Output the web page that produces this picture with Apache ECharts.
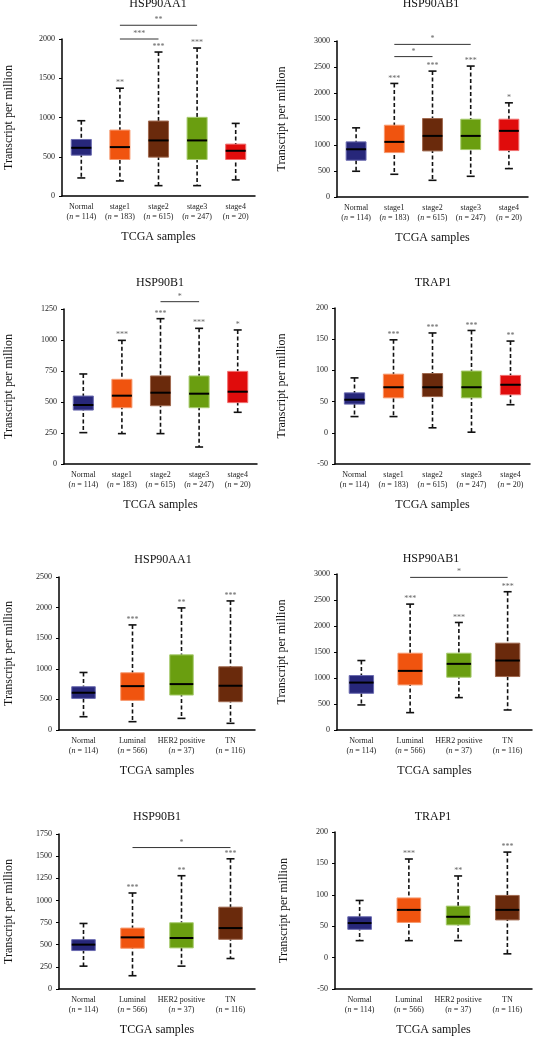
<!DOCTYPE html>
<html><head><meta charset="utf-8">
<script src="https://cdn.jsdelivr.net/npm/echarts@6/dist/echarts.min.js"></script>
<style>html,body{margin:0;padding:0;background:#fff}#c{width:533px;height:1037px}</style>
</head><body><div id="c"></div>
<script>
// ---------- DATA ----------
const stageCats = ['Normal', 'stage1', 'stage2', 'stage3', 'stage4'];
const stageN = ['114', '183', '615', '247', '20'];
const subCats = ['Normal', 'Luminal', 'HER2 positive', 'TN'];
const subN = ['114', '566', '37', '116'];

// each box: [low whisker, Q1, median, Q3, high whisker]
const aa1Stage = [[230,520,614,720,959],[192,465,623,840,1373],[132,495,708,955,1834],[132,465,708,1002,1885],[205,465,576,661,925]];
const ab1Stage = [[495,707,918,1060,1330],[437,854,1060,1381,2184],[321,886,1175,1509,2421],[398,912,1175,1496,2518],[546,893,1272,1496,1811]];
const b1Stage = [[253,435,476,548,726],[245,454,551,683,997],[245,470,575,710,1172],[137,454,567,710,1094],[417,495,583,747,1081]];
const trap1Stage = [[26,46,53,64,88],[26,56,73,94,149],[8,58,73,95,160],[1,56,73,99,164],[45,61,77,92,147]];
const aa1Sub = [[217,516,609,707,940],[136,484,717,935,1717],[190,571,750,1228,1995],[109,462,723,1033,2109]];
const ab1Sub = [[482,706,912,1047,1336],[334,867,1137,1477,2421],[623,1015,1272,1477,2068],[385,1028,1336,1670,2659]];
const b1Sub = [[258,434,501,557,740],[150,460,583,688,1084],[258,464,576,748,1279],[344,561,688,924,1470]];
const trap1Sub = [[27,45,55,65,91],[27,56,76,95,157],[27,52,65,82,130],[6,60,76,99,168]];

// significance marks above whiskers
const aa1StageStars = ['', '**', '***', '***', ''];
const ab1StageStars = ['', '***', '***', '***', '*'];
const b1StageStars = ['', '***', '***', '***', '*'];
const trap1StageStars = ['', '***', '***', '***', '**'];
const aa1SubStars = ['', '***', '**', '***'];
const ab1SubStars = ['', '***', '***', '***'];
const b1SubStars = ['', '***', '**', '***'];
const trap1SubStars = ['', '***', '**', '***'];

// brackets: [from category, to category, y value, label]
const aa1StageBrackets = [[1, 2, 2000, '***'], [1, 3, 2175, '**']];
const ab1StageBrackets = [[1, 2, 2700, '*'], [1, 3, 2935, '*']];
const b1StageBrackets = [[2, 3, 1309, '*']];
const ab1SubBrackets = [[1, 3, 2935, '*']];
const b1SubBrackets = [[1, 3, 1597, '*']];

// y axis ranges [min, max, interval]
const aa1StageAxis = [0, 2000, 500];
const ab1StageAxis = [0, 3000, 500];
const b1StageAxis = [0, 1250, 250];
const trap1StageAxis = [-50, 200, 50];
const aa1SubAxis = [0, 2500, 500];
const ab1SubAxis = [0, 3000, 500];
const b1SubAxis = [0, 1750, 250];
const trap1SubAxis = [-50, 200, 50];

const titles = ['HSP90AA1', 'HSP90AB1', 'HSP90B1', 'TRAP1', 'HSP90AA1', 'HSP90AB1', 'HSP90B1', 'TRAP1'];
const xName = 'TCGA samples';
const yName = 'Transcript per million';

// ---------- STYLES / LAYOUT ----------
const FONT = 'Liberation Serif';
const stageFill = ['#27277a', '#f0540f', '#6a2a0c', '#6a9e10', '#e00c0c'];
const stageStroke = ['#6a6ab0', '#f79a70', '#a06a50', '#a8cc70', '#f07070'];
const subFill = ['#27277a', '#f0540f', '#6a9e10', '#6a2a0c'];
const subStroke = ['#6a6ab0', '#f79a70', '#a8cc70', '#a06a50'];

const layouts = [
  {left: 62, top: 39, width: 193, height: 157, tx: 158, ty: 4, yGap: 47, box: 0.52},
  {left: 337, top: 41, width: 191, height: 156, tx: 431, ty: 4, yGap: 49, box: 0.52},
  {left: 64, top: 309, width: 193, height: 155, tx: 160, ty: 283, yGap: 49, box: 0.52},
  {left: 335, top: 308, width: 195, height: 156, tx: 433, ty: 283, yGap: 47, box: 0.52},
  {left: 59, top: 577, width: 196, height: 153, tx: 163, ty: 560, yGap: 44, box: 0.48},
  {left: 337, top: 574, width: 195, height: 156, tx: 431, ty: 559, yGap: 49, box: 0.5},
  {left: 59, top: 834, width: 196, height: 156, tx: 157, ty: 817, yGap: 44, box: 0.48},
  {left: 335, top: 832, width: 197, height: 157, tx: 433, ty: 817, yGap: 45, box: 0.48}
];

const panels = [
  {cats: stageCats, n: stageN, data: aa1Stage, stars: aa1StageStars, br: aa1StageBrackets, ax: aa1StageAxis, fill: stageFill, stroke: stageStroke},
  {cats: stageCats, n: stageN, data: ab1Stage, stars: ab1StageStars, br: ab1StageBrackets, ax: ab1StageAxis, fill: stageFill, stroke: stageStroke},
  {cats: stageCats, n: stageN, data: b1Stage, stars: b1StageStars, br: b1StageBrackets, ax: b1StageAxis, fill: stageFill, stroke: stageStroke},
  {cats: stageCats, n: stageN, data: trap1Stage, stars: trap1StageStars, br: [], ax: trap1StageAxis, fill: stageFill, stroke: stageStroke},
  {cats: subCats, n: subN, data: aa1Sub, stars: aa1SubStars, br: [], ax: aa1SubAxis, fill: subFill, stroke: subStroke},
  {cats: subCats, n: subN, data: ab1Sub, stars: ab1SubStars, br: ab1SubBrackets, ax: ab1SubAxis, fill: subFill, stroke: subStroke},
  {cats: subCats, n: subN, data: b1Sub, stars: b1SubStars, br: b1SubBrackets, ax: b1SubAxis, fill: subFill, stroke: subStroke},
  {cats: subCats, n: subN, data: trap1Sub, stars: trap1SubStars, br: [], ax: trap1SubAxis, fill: subFill, stroke: subStroke}
];

function boxRender(p, ratio) {
  return function (params, api) {
    const i = api.value(0);
    const lo = api.coord([i, api.value(1)]);
    const q1 = api.coord([i, api.value(2)]);
    const md = api.coord([i, api.value(3)]);
    const q3 = api.coord([i, api.value(4)]);
    const hi = api.coord([i, api.value(5)]);
    const cx = lo[0];
    const bw = api.size([1, 0])[0] * ratio;
    const cap = 4;
    return {
      type: 'group',
      children: [
        {type: 'line', shape: {x1: cx, y1: hi[1], x2: cx, y2: lo[1]}, style: {stroke: '#111', lineWidth: 1.6, lineDash: [4, 2.5]}},
        {type: 'line', shape: {x1: cx - cap, y1: hi[1], x2: cx + cap, y2: hi[1]}, style: {stroke: '#111', lineWidth: 1.6}},
        {type: 'line', shape: {x1: cx - cap, y1: lo[1], x2: cx + cap, y2: lo[1]}, style: {stroke: '#111', lineWidth: 1.6}},
        {type: 'rect', shape: {x: cx - bw / 2, y: q3[1], width: bw, height: q1[1] - q3[1]}, style: {fill: p.fill[i], stroke: p.stroke[i], lineWidth: 1}},
        {type: 'line', shape: {x1: cx - bw / 2, y1: md[1], x2: cx + bw / 2, y2: md[1]}, style: {stroke: '#000', lineWidth: 2}},
        {type: 'text', style: {text: p.stars[i], x: cx, y: hi[1] - 1, align: 'center', verticalAlign: 'bottom', font: '8px ' + FONT, fill: '#666'}}
      ]
    };
  };
}

function bracketRender(p) {
  return function (params, api) {
    const a = api.coord([api.value(0), api.value(2)]);
    const b = api.coord([api.value(1), api.value(2)]);
    const lbl = p.br[params.dataIndex][3];
    return {
      type: 'group',
      children: [
        {type: 'line', shape: {x1: a[0], y1: a[1], x2: b[0], y2: b[1]}, style: {stroke: '#333', lineWidth: 1}},
        {type: 'text', style: {text: lbl, x: (a[0] + b[0]) / 2, y: a[1] - 1, align: 'center', verticalAlign: 'bottom', font: '8px ' + FONT, fill: '#666'}}
      ]
    };
  };
}

const option = {
  animation: false,
  backgroundColor: '#fff',
  grid: [], xAxis: [], yAxis: [], series: [], graphic: []
};

panels.forEach((p, k) => {
  const L = layouts[k];
  option.grid.push({left: L.left, top: L.top, width: L.width, height: L.height, containLabel: false});
  option.xAxis.push({
    type: 'category', gridIndex: k, data: p.cats,
    axisLine: {onZero: false, lineStyle: {color: '#000', width: 1.5}},
    axisTick: {show: false},
    axisLabel: {
      interval: 0, margin: 6,
      formatter: (v, i) => '{a|' + v + '}\n{b|(}{i|n}{b| = ' + p.n[i] + ')}',
      rich: {
        a: {fontFamily: FONT, fontSize: 8, color: '#222', lineHeight: 10},
        b: {fontFamily: FONT, fontSize: 8, color: '#222', lineHeight: 10},
        i: {fontFamily: FONT, fontSize: 8, color: '#222', lineHeight: 10, fontStyle: 'italic'}
      }
    },
    name: xName, nameLocation: 'middle', nameGap: 35,
    nameTextStyle: {fontFamily: FONT, fontSize: 12, color: '#111', verticalAlign: 'top'}
  });
  option.yAxis.push({
    type: 'value', gridIndex: k, min: p.ax[0], max: p.ax[1], interval: p.ax[2],
    splitLine: {show: false},
    axisLine: {show: true, lineStyle: {color: '#000', width: 1.5}},
    axisTick: {show: true, length: 3, lineStyle: {color: '#000'}},
    axisLabel: {fontFamily: FONT, fontSize: 8, color: '#222', margin: 7, formatter: v => String(v)},
    name: yName, nameLocation: 'middle', nameGap: L.yGap,
    nameTextStyle: {fontFamily: FONT, fontSize: 12, color: '#111'}
  });
  option.series.push({
    type: 'custom', xAxisIndex: k, yAxisIndex: k,
    renderItem: boxRender(p, L.box),
    encode: {x: 0, y: [1, 2, 3, 4, 5]},
    data: p.data.map((d, i) => [i].concat(d)),
    clip: false, z: 2
  });
  if (p.br.length) {
    option.series.push({
      type: 'custom', xAxisIndex: k, yAxisIndex: k,
      renderItem: bracketRender(p),
      encode: {x: [0, 1], y: 2},
      data: p.br.map(b => [b[0], b[1], b[2]]),
      clip: false, z: 3
    });
  }
  option.graphic.push({
    type: 'text', x: L.tx, y: L.ty,
    style: {text: titles[k], align: 'center', verticalAlign: 'middle', font: '12px ' + FONT, fill: '#111'}
  });
});

const chart = echarts.init(document.getElementById('c'), null, {renderer: 'canvas'});
chart.setOption(option);
</script>
</body></html>
